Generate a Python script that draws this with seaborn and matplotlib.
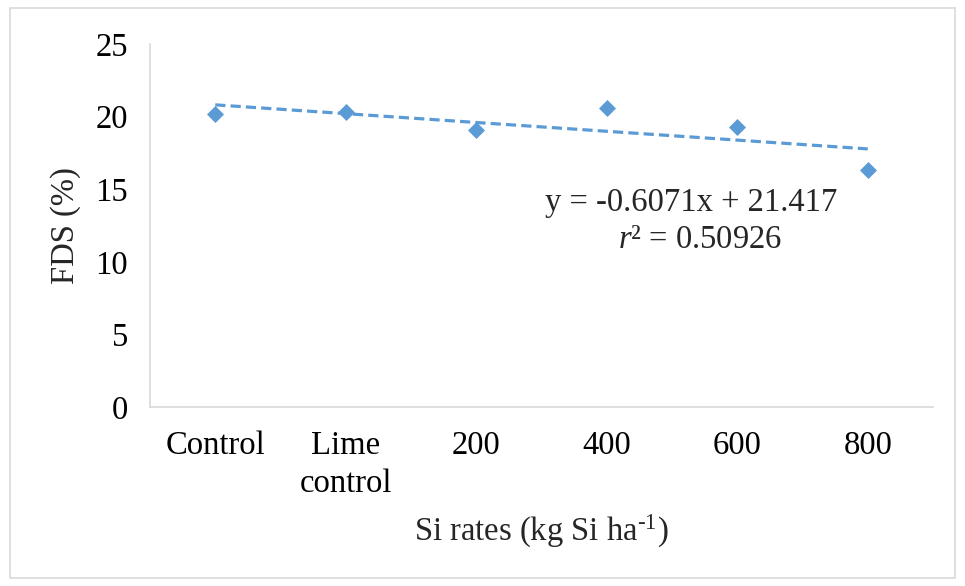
import numpy as np
import pandas as pd
import matplotlib
matplotlib.use("Agg")
import matplotlib.pyplot as plt
import matplotlib.patches as mpatches
import seaborn as sns

categories = ["Control", "Lime\ncontrol", "200", "400", "600", "800"]
fds = [20.2, 20.35, 19.05, 20.6, 19.25, 16.3]
yticks = [0, 5, 10, 15, 20, 25]

sns.set_style("white")
plt.rcParams["font.family"] = ["Liberation Serif", "DejaVu Serif"]
plt.rcParams["mathtext.fontset"] = "custom"
plt.rcParams["mathtext.rm"] = "Liberation Serif"
plt.rcParams["mathtext.it"] = "Liberation Serif:italic"

FS = 23.5
df = pd.DataFrame({"x": np.arange(1, len(fds) + 1), "y": fds})

fig = plt.figure(figsize=(9.65, 5.86), dpi=100)
ax = fig.add_axes([150 / 965, 1 - 407 / 586, (933 - 150) / 965, (407 - 44) / 586])

color = "#5B9BD5"
slope, intercept = np.polyfit(df["x"], df["y"], 1)
xs = np.array([df["x"].min(), df["x"].max()])
ax.plot(xs, slope * xs + intercept, color=color, lw=2.3, ls=(0, (3.2, 1.6)), zorder=2)
sns.scatterplot(data=df, x="x", y="y", marker="D", s=75, color=color,
                edgecolor=color, linewidth=0, ax=ax, zorder=3)

ax.set_xlim(0.5, 6.5)
ax.set_ylim(0, 25)
ax.set_yticks(yticks)
ax.set_yticklabels([str(t) for t in yticks])
ax.set_xticks(df["x"])
ax.set_xticklabels(categories, linespacing=1.32)
ax.tick_params(axis="both", labelsize=FS, length=0, colors="black")
ax.tick_params(axis="x", pad=17)
ax.tick_params(axis="y", pad=16)

for s in ["top", "right"]:
    ax.spines[s].set_visible(False)
for s in ["left", "bottom"]:
    ax.spines[s].set_color("#D9D9D9")
    ax.spines[s].set_linewidth(1.2)

ax.set_xlabel("Si rates (kg Si ha$^{\\text{-}1}$)", fontsize=FS, labelpad=10)
ax.set_ylabel("FDS (%)", fontsize=FS, labelpad=10)

ax.text(691 / 965, 1 - 203 / 586, "y = -0.6071x + 21.417", transform=fig.transFigure,
        ha="center", va="center", fontsize=FS)
ax.text(700 / 965, 1 - 240 / 586, "$\\mathit{r}$² = 0.50926", transform=fig.transFigure,
        ha="center", va="center", fontsize=FS)

fig.patches.append(mpatches.Rectangle((10 / 965, 1 - 578 / 586), 945 / 965, 570 / 586,
                                      transform=fig.transFigure, fill=False,
                                      edgecolor="#D9D9D9", lw=1.2))

fig.savefig("out.png", dpi=100)
